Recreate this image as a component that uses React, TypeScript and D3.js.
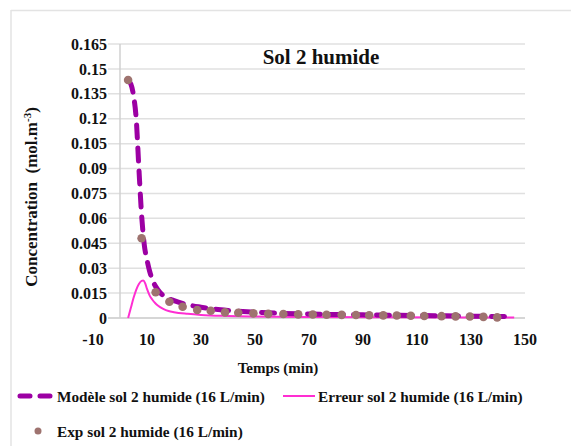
import React from "react";
import * as d3 from "d3";

const expTime = [3, 8, 13.2, 18.3, 23.2, 28.6, 33.6, 38.9, 43.8, 49.4, 54.9, 60.5, 66, 71.4, 76.5, 82.1, 87.4, 92.3, 97.5, 102.5, 107.7, 112.7, 119.1, 124.3, 129.6, 134.6, 139.7];
const expConc = [0.1433, 0.048, 0.0155, 0.0098, 0.0068, 0.0048, 0.0044, 0.0034, 0.0032, 0.0028, 0.0025, 0.0024, 0.0022, 0.0021, 0.002, 0.0019, 0.0018, 0.0017, 0.0016, 0.0015, 0.0014, 0.0012, 0.0011, 0.001, 0.0009, 0.0007, 0.0004];

const modelTime = [3, 4, 5, 6, 7, 8, 9, 10, 11, 12, 14, 16, 20, 25, 30, 35, 40, 50, 60, 70, 80, 90, 100, 110, 120, 130, 140, 146];
const modelConc = [0.143, 0.141, 0.134, 0.12, 0.09, 0.062, 0.044, 0.035, 0.028, 0.023, 0.017, 0.0135, 0.0105, 0.008, 0.0065, 0.0053, 0.0045, 0.0035, 0.0028, 0.0024, 0.0021, 0.0019, 0.0017, 0.0015, 0.0013, 0.0011, 0.0009, 0.0008];

const errTime = [3, 4, 5, 6, 7, 8, 8.6, 9.3, 10, 11, 12, 13, 14, 16, 18, 20, 25, 30, 40, 50, 70, 100, 146];
const errConc = [0, 0.006, 0.012, 0.017, 0.0205, 0.0224, 0.0226, 0.021, 0.0175, 0.0135, 0.011, 0.009, 0.0075, 0.0055, 0.0042, 0.0035, 0.0025, 0.0018, 0.0012, 0.0009, 0.0006, 0.0004, 0.0003];

const xTicks = [-10, 10, 30, 50, 70, 90, 110, 130, 150];
const yTicks = [0, 0.015, 0.03, 0.045, 0.06, 0.075, 0.09, 0.105, 0.12, 0.135, 0.15, 0.165];

const title = "Sol 2 humide";
const xTitle = "Temps (min)";
const legendModel = "Modèle sol 2 humide (16 L/min)";
const legendErr = "Erreur sol 2 humide (16 L/min)";
const legendExp = "Exp sol 2 humide (16 L/min)";

const FONT = "'Liberation Serif', 'Times New Roman', serif";
const PURPLE = "#9c00a3";
const PINK = "#ff2ed2";
const BROWN = "#9e736f";

export default function App() {
  const W = 571, H = 446;
  const x = d3.scaleLinear().domain([-10, 150]).range([93, 525]);
  const y = d3.scaleLinear().domain([0, 0.165]).range([318, 44]);

  const line = d3
    .line<[number, number]>()
    .x((d) => x(d[0]))
    .y((d) => y(d[1]))
    .curve(d3.curveMonotoneX);

  const modelPts: [number, number][] = modelTime.map((t, i) => [t, modelConc[i]]);
  const errPts: [number, number][] = errTime.map((t, i) => [t, errConc[i]]);

  const fmt = (v: number) => (v === 0 ? "0" : String(+v.toFixed(3)));

  return (
    <svg width={W} height={H} style={{ position: "absolute", left: 0, top: 0, background: "#fff" }} fontFamily={FONT}>
      <rect x={0} y={0} width={W} height={H} fill="#fff" />
      <line x1={11} x2={W} y1={10.5} y2={10.5} stroke="#e3e3e3" strokeWidth={1.5} />
      <line x1={11} x2={11} y1={10} y2={H} stroke="#e3e3e3" strokeWidth={1.5} />

      {yTicks.map((t) => (
        <line key={"g" + t} x1={108} x2={x(150)} y1={y(t)} y2={y(t)} stroke="#e0e0e0" strokeWidth={1.5} />
      ))}
      <line x1={x(0)} x2={x(0)} y1={y(0.165)} y2={y(0)} stroke="#d0d0d0" strokeWidth={1.5} />
      <line x1={108} x2={x(150)} y1={y(0)} y2={y(0)} stroke="#d0d0d0" strokeWidth={1.5} />

      {yTicks.map((t) => (
        <text key={"y" + t} x={107} y={y(t)} dy="0.35em" textAnchor="end" fontSize={16} fontWeight="bold" fill="#111">
          {fmt(t)}
        </text>
      ))}
      {xTicks.map((t) => (
        <text key={"x" + t} x={x(t)} y={345} textAnchor="middle" fontSize={16} fontWeight="bold" fill="#111">
          {t}
        </text>
      ))}

      <text x={321} y={64} textAnchor="middle" fontSize={21} fontWeight="bold" fill="#111">
        {title}
      </text>
      <text x={278} y={373} textAnchor="middle" fontSize={15} fontWeight="bold" fill="#111">
        {xTitle}
      </text>
      <text transform={`translate(37,197) rotate(-90)`} textAnchor="middle" fontSize={17} fontWeight="bold" fill="#111">
        Concentration{"\u00A0 "}(mol.m
        <tspan dy={-6} fontSize={11}>-3</tspan>
        <tspan dy={6}>)</tspan>
      </text>

      <path d={line(errPts) || ""} fill="none" stroke={PINK} strokeWidth={2} />
      <path
        d={line(modelPts) || ""}
        fill="none"
        stroke={PURPLE}
        strokeWidth={5}
        strokeDasharray="13 10"
        strokeLinecap="round"
      />
      {expTime.map((t, i) => (
        <circle key={"e" + i} cx={x(t)} cy={y(expConc[i])} r={4.3} fill={BROWN} />
      ))}

      <line x1={20} x2={51} y1={396} y2={396} stroke={PURPLE} strokeWidth={5} strokeDasharray="10 10" strokeLinecap="round" />
      <text x={57} y={402} fontSize={15.3} fontWeight="bold" fill="#111">
        {legendModel}
      </text>
      <line x1={283} x2={315} y1={396} y2={396} stroke={PINK} strokeWidth={2} />
      <text x={318} y={402} fontSize={15.3} fontWeight="bold" fill="#111">
        {legendErr}
      </text>
      <circle cx={38} cy={431} r={3.5} fill={BROWN} />
      <text x={57} y={437} fontSize={15.3} fontWeight="bold" fill="#111">
        {legendExp}
      </text>
    </svg>
  );
}
